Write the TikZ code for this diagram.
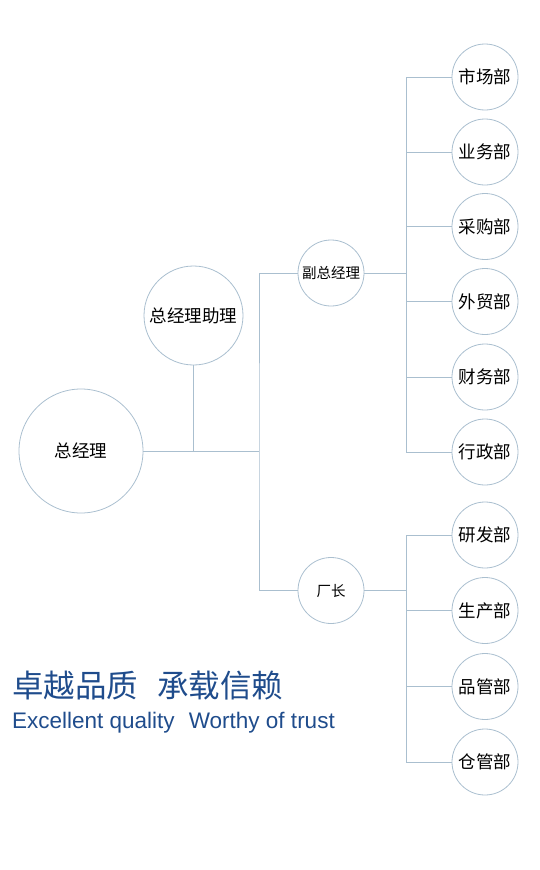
\documentclass[tikz,border=0pt]{standalone}
\usepackage{fontspec}
\setmainfont{Liberation Sans}
\newfontfamily\cjk{Noto Sans CJK SC}
\definecolor{linec}{HTML}{AABFCF}
\definecolor{titlec}{HTML}{1F4C8C}
\begin{document}
\begin{tikzpicture}[x=1pt,y=-1pt,
  org/.style={circle,draw=linec,line width=0.8pt,inner sep=0pt,font=\cjk\fontsize{17.5}{20}\selectfont},
  big/.style={org,minimum size=124pt},
  mid/.style={org,minimum size=99pt},
  sub/.style={org,minimum size=66pt,font=\cjk\fontsize{14.5}{17}\selectfont},
  dept/.style={org,minimum size=66pt},
  conn/.style={draw=linec,line width=0.8pt}]
\useasboundingbox (0,0) rectangle (540,870);
\node[big] (gm) at (81,451) {总经理};
\node[mid] (asst) at (193.5,315.5) {总经理助理};
\node[sub] (vgm) at (331,273) {副总经理};
\node[sub] (fm) at (331,590.5) {厂长};
\node[dept] (d1) at (485,77) {市场部};
\node[dept] (d2) at (485,152) {业务部};
\node[dept] (d3) at (485,226.5) {采购部};
\node[dept] (d4) at (485,301.5) {外贸部};
\node[dept] (d5) at (485,377) {财务部};
\node[dept] (d6) at (485,452) {行政部};
\node[dept] (e1) at (485,535) {研发部};
\node[dept] (e2) at (485,610.5) {生产部};
\node[dept] (e3) at (485,686.5) {品管部};
\node[dept] (e4) at (485,762) {仓管部};
\coordinate (j1) at (193.5,451);
\coordinate (j2) at (259,451);
\coordinate (bu) at (406,273);
\coordinate (bl) at (406,590.5);
\draw[conn] (gm.east) -- (j2);
\draw[conn] (asst.south) -- (j1);
\draw[conn] (vgm.west) -| (j2) |- (fm.west);
\draw[conn] (vgm.east) -- (bu);
\draw[conn] (fm.east) -- (bl);
\foreach \d in {d1,d2,d3,d4,d5,d6}{\draw[conn] (\d.west) -- (\d.west -| bu);}
\draw[conn] (d1.west -| bu) -- (d6.west -| bu);
\foreach \d in {e1,e2,e3,e4}{\draw[conn] (\d.west) -- (\d.west -| bl);}
\draw[conn] (e1.west -| bl) -- (e4.west -| bl);
\node[anchor=west,inner sep=0pt,text=titlec,font=\cjk\fontsize{31.5}{36}\selectfont] (t1) at (12,686) {卓越品质\hspace{0.6em}承载信赖};
\node[anchor=west,inner sep=0pt,text=titlec,font=\fontsize{22.5}{26}\selectfont] (t2) at (12,723) {Excellent quality\hspace{0.35em} Worthy of trust};
\end{tikzpicture}
\end{document}
